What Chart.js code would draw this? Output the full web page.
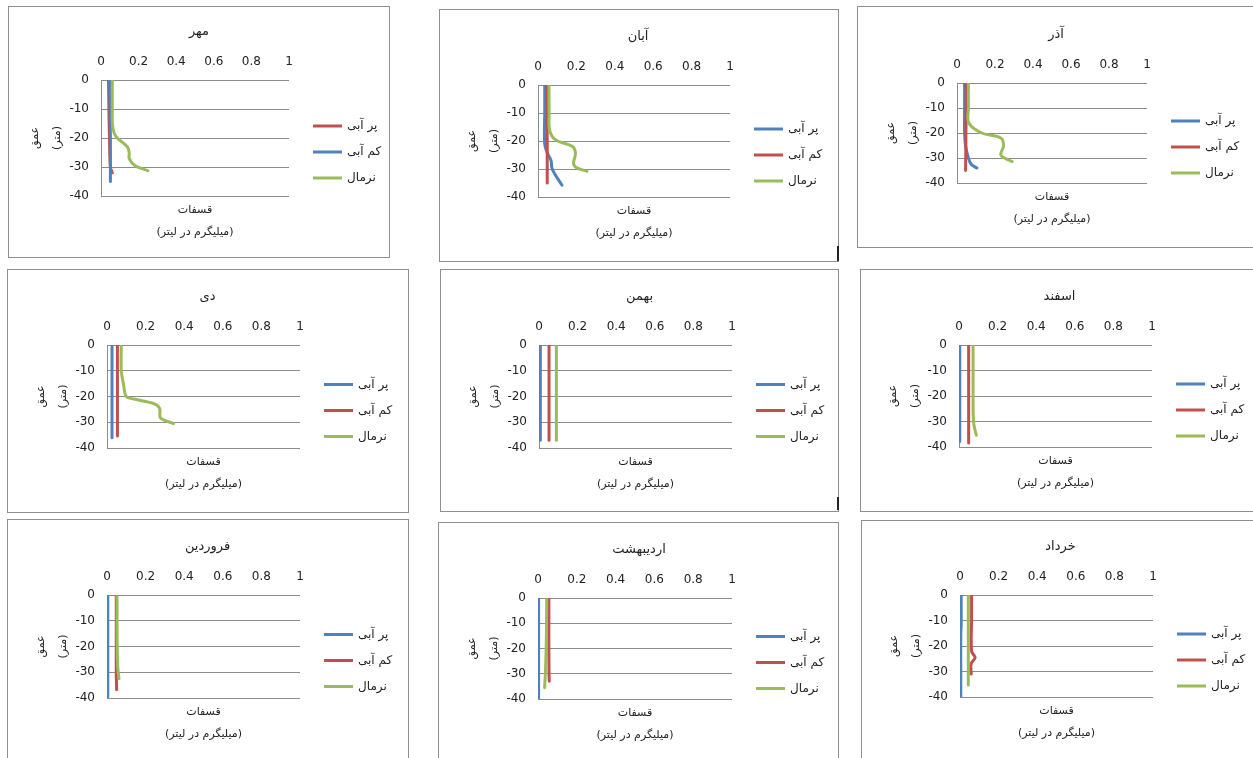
<!DOCTYPE html>
<html>
<head>
<meta charset="utf-8">
<script src="https://cdn.jsdelivr.net/npm/chart.js@4.4.1/dist/chart.umd.min.js"></script>
<style>
  body { margin: 0; background: #fff; overflow: hidden; width: 1253px; height: 758px; position: relative; }
  .panel { position: absolute; border: 1px solid #8e8e8e; box-sizing: border-box; background: #fff; }
  .panel canvas { position: absolute; left: 0; top: 0; }
  .mark { position: absolute; background: #222; width: 2px; z-index: 5; }
</style>
</head>
<body>
<div class="mark" style="left:837px;top:246px;height:15px"></div>
<div class="mark" style="left:837px;top:497px;height:13px"></div>
<script>
// axis ticks and labels
const xTicks = [0, 0.2, 0.4, 0.6, 0.8, 1];
const yTicks = [0, -10, -20, -30, -40];
const seriesNames = ['پر آبی', 'کم آبی', 'نرمال'];
const xTitle = 'قسفات';
const xUnit = '(میلیگرم در لیتر)';
const yTitle = 'عمق';
const yUnit = '(متر)';

// [concentration, depth] pairs
const mehrPor = [[0.04, 0], [0.042, -10], [0.045, -20], [0.05, -30], [0.06, -32]];
const mehrKam = [[0.045, 0], [0.048, -10], [0.05, -20], [0.05, -30], [0.05, -35]];
const mehrNormal = [[0.06, 0], [0.06, -10], [0.062, -16], [0.08, -19.5], [0.14, -23], [0.15, -25], [0.15, -27], [0.18, -29.5], [0.25, -31.3]];

const abanPor = [[0.035, 0], [0.035, -10], [0.035, -21], [0.05, -24.5], [0.068, -27], [0.072, -29.5], [0.085, -31.5], [0.125, -35.8]];
const abanKam = [[0.047, 0], [0.047, -10], [0.048, -20], [0.048, -30], [0.048, -35]];
const abanNormal = [[0.057, 0], [0.058, -10], [0.06, -16], [0.09, -19.5], [0.18, -22], [0.195, -24.5], [0.185, -28], [0.2, -29.5], [0.255, -30.8]];

const azarPor = [[0.04, 0], [0.04, -10], [0.04, -20], [0.045, -25], [0.06, -30], [0.075, -32.5], [0.105, -34]];
const azarKam = [[0.048, 0], [0.048, -10], [0.047, -20], [0.046, -30], [0.045, -35]];
const azarNormal = [[0.06, 0], [0.06, -10], [0.062, -16], [0.13, -20], [0.23, -22], [0.245, -25], [0.23, -28.7], [0.25, -30], [0.29, -31.4]];

const deyPor = [[0.026, 0], [0.026, -10], [0.026, -20], [0.026, -30], [0.026, -36]];
const deyKam = [[0.054, 0], [0.054, -10], [0.054, -20], [0.054, -30], [0.054, -35.3]];
const deyNormal = [[0.074, 0], [0.074, -10], [0.085, -15], [0.1, -20], [0.14, -21], [0.24, -22.7], [0.272, -24.5], [0.275, -28], [0.29, -29], [0.345, -30.5]];

const bahmanPor = [[0.007, 0], [0.007, -10], [0.007, -20], [0.007, -30], [0.007, -37]];
const bahmanKam = [[0.052, 0], [0.052, -10], [0.052, -20], [0.052, -30], [0.052, -37]];
const bahmanNormal = [[0.09, 0], [0.09, -10], [0.09, -20], [0.09, -30], [0.09, -37]];

const esfandPor = [[0.004, 0], [0.004, -10], [0.004, -20], [0.004, -30], [0.004, -37.8]];
const esfandKam = [[0.05, 0], [0.05, -10], [0.05, -20], [0.05, -30], [0.05, -38.4]];
const esfandNormal = [[0.073, 0], [0.073, -10], [0.073, -20], [0.075, -30], [0.085, -34], [0.09, -35.4]];

const farvardinPor = [[0.004, 0], [0.004, -10], [0.004, -20], [0.004, -30], [0.004, -39.5]];
const farvardinKam = [[0.048, 0], [0.048, -10], [0.048, -20], [0.048, -30], [0.05, -36.8]];
const farvardinNormal = [[0.052, 0], [0.052, -10], [0.053, -20], [0.056, -28], [0.062, -32.5]];

const ordibeheshtPor = [[0.003, 0], [0.003, -10], [0.003, -20], [0.003, -30], [0.003, -40]];
const ordibeheshtKam = [[0.056, 0], [0.056, -10], [0.056, -20], [0.057, -30], [0.058, -33]];
const ordibeheshtNormal = [[0.045, 0], [0.044, -10], [0.042, -20], [0.038, -30], [0.034, -35.5]];

const khordadPor = [[0.006, 0], [0.006, -12], [0.004, -15], [0.004, -30], [0.004, -40]];
const khordadKam = [[0.06, 0], [0.06, -10], [0.06, -22], [0.078, -24.6], [0.058, -26.8], [0.058, -31]];
const khordadNormal = [[0.043, 0], [0.043, -10], [0.043, -20], [0.043, -30], [0.043, -35.3]];

const blue = '#4F81BD', red = '#C0504D', green = '#9BBB59';
const textColor = '#222';
const gridColor = '#8c8c8c';
const FONT = 'DejaVu Sans';

// box = panel frame [l, t, r, b], plot = plot area [l, t, r, b], page pixels
const panels = [
  { title: 'مهر', box: [8, 6, 390, 258], plot: [101, 80, 289, 196], data: [mehrPor, mehrKam, mehrNormal], colors: [red, blue, green] },
  { title: 'آبان', box: [439, 9, 839, 262], plot: [538, 85, 730, 197], data: [abanPor, abanKam, abanNormal], colors: [blue, red, green] },
  { title: 'آذر', box: [857, 6, 1260, 248], plot: [957, 83, 1147, 183], data: [azarPor, azarKam, azarNormal], colors: [blue, red, green] },
  { title: 'دی', box: [7, 269, 409, 513], plot: [107, 345, 300, 448], data: [deyPor, deyKam, deyNormal], colors: [blue, red, green] },
  { title: 'بهمن', box: [440, 269, 839, 512], plot: [539, 345, 732, 448], data: [bahmanPor, bahmanKam, bahmanNormal], colors: [blue, red, green] },
  { title: 'اسفند', box: [860, 269, 1262, 512], plot: [959, 345, 1152, 447], data: [esfandPor, esfandKam, esfandNormal], colors: [blue, red, green] },
  { title: 'فروردین', box: [7, 519, 409, 780], plot: [107, 595, 300, 698], data: [farvardinPor, farvardinKam, farvardinNormal], colors: [blue, red, green] },
  { title: 'اردیبهشت', box: [438, 522, 839, 780], plot: [538, 598, 732, 699], data: [ordibeheshtPor, ordibeheshtKam, ordibeheshtNormal], colors: [blue, red, green] },
  { title: 'خرداد', box: [861, 520, 1262, 780], plot: [960, 595, 1153, 697], data: [khordadPor, khordadKam, khordadNormal], colors: [blue, red, green] }
];

const YW = 40; // y axis box width
const XH = 26; // x axis box height

// titles, axis titles and legend, placed from the chart area
const textPlugin = {
  id: 'excelText',
  afterDraw(chart, args, opts) {
    const { ctx, chartArea: a } = chart;
    const mid = (a.left + a.right) / 2;
    ctx.save();
    ctx.fillStyle = textColor;
    ctx.textBaseline = 'middle';
    ctx.textAlign = 'center';
    ctx.font = `13px "${FONT}"`;
    ctx.fillText(opts.title, mid + 4, a.top - 48);
    ctx.font = `11px "${FONT}"`;
    ctx.fillText(xTitle, mid, a.bottom + 14);
    ctx.fillText(xUnit, mid, a.bottom + 36);
    const ym = (a.top + a.bottom) / 2;
    [[yTitle, a.left - 66], [yUnit, a.left - 44]].forEach(([t, x]) => {
      ctx.save();
      ctx.translate(x, ym);
      ctx.rotate(-Math.PI / 2);
      ctx.fillText(t, 0, 0);
      ctx.restore();
    });
    // legend
    const lm = ym + 14;
    ctx.font = `12px "${FONT}"`;
    ctx.textAlign = 'left';
    seriesNames.forEach((name, i) => {
      const y = lm + (i - 1) * 26;
      ctx.strokeStyle = opts.colors[i];
      ctx.lineWidth = 3;
      ctx.beginPath();
      ctx.moveTo(a.right + 24, y);
      ctx.lineTo(a.right + 53, y);
      ctx.stroke();
      ctx.fillText(name, a.right + 58, y);
    });
    ctx.restore();
  }
};

panels.forEach(p => {
  const div = document.createElement('div');
  div.className = 'panel';
  const w = p.box[2] - p.box[0], h = p.box[3] - p.box[1];
  div.style.left = p.box[0] + 'px';
  div.style.top = p.box[1] + 'px';
  div.style.width = w + 'px';
  div.style.height = h + 'px';
  const canvas = document.createElement('canvas');
  const W = w - 2, H = h - 2;
  canvas.width = W;
  canvas.height = H;
  canvas.style.width = W + 'px';
  canvas.style.height = H + 'px';
  div.appendChild(canvas);
  document.body.appendChild(div);

  const ox = p.box[0] + 1, oy = p.box[1] + 1;
  const L = p.plot[0] - ox, T = p.plot[1] - oy, R = p.plot[2] - ox, B = p.plot[3] - oy;

  new Chart(canvas, {
    type: 'scatter',
    data: {
      datasets: p.data.map((pts, i) => ({
        label: seriesNames[i],
        data: pts.map(([x, y]) => ({ x, y })),
        showLine: true,
        borderColor: p.colors[i],
        backgroundColor: p.colors[i],
        order: 3 - i
      }))
    },
    options: {
      responsive: false,
      animation: false,
      devicePixelRatio: 1,
      layout: { padding: { left: L - YW, top: T - XH, right: W - R, bottom: H - B }, autoPadding: false },
      plugins: {
        legend: { display: false },
        tooltip: { enabled: false },
        excelText: { title: p.title, colors: p.colors }
      },
      elements: {
        point: { radius: 0, hoverRadius: 0 },
        line: { borderWidth: 3, tension: 0.35, borderCapStyle: 'round', borderJoinStyle: 'round' }
      },
      scales: {
        x: {
          type: 'linear', position: 'top', min: 0, max: 1,
          afterBuildTicks: s => { s.ticks = xTicks.map(v => ({ value: v })); },
          grid: { display: false, drawTicks: false },
          border: { display: false },
          ticks: { padding: 11, color: textColor, font: { family: FONT, size: 12 }, callback: v => String(v) },
          afterFit: s => { s.height = XH; s.paddingLeft = 0; s.paddingRight = 0; }
        },
        y: {
          type: 'linear', min: -40, max: 0,
          afterBuildTicks: s => { s.ticks = yTicks.map(v => ({ value: v })); },
          grid: { color: gridColor, lineWidth: 1, drawTicks: false },
          border: { color: gridColor, width: 1 },
          ticks: { padding: 12, color: textColor, font: { family: FONT, size: 12 }, callback: v => String(v) },
          afterFit: s => { s.width = YW; s.paddingTop = 0; s.paddingBottom = 0; }
        }
      }
    },
    plugins: [textPlugin]
  });
});
</script>
</body>
</html>
